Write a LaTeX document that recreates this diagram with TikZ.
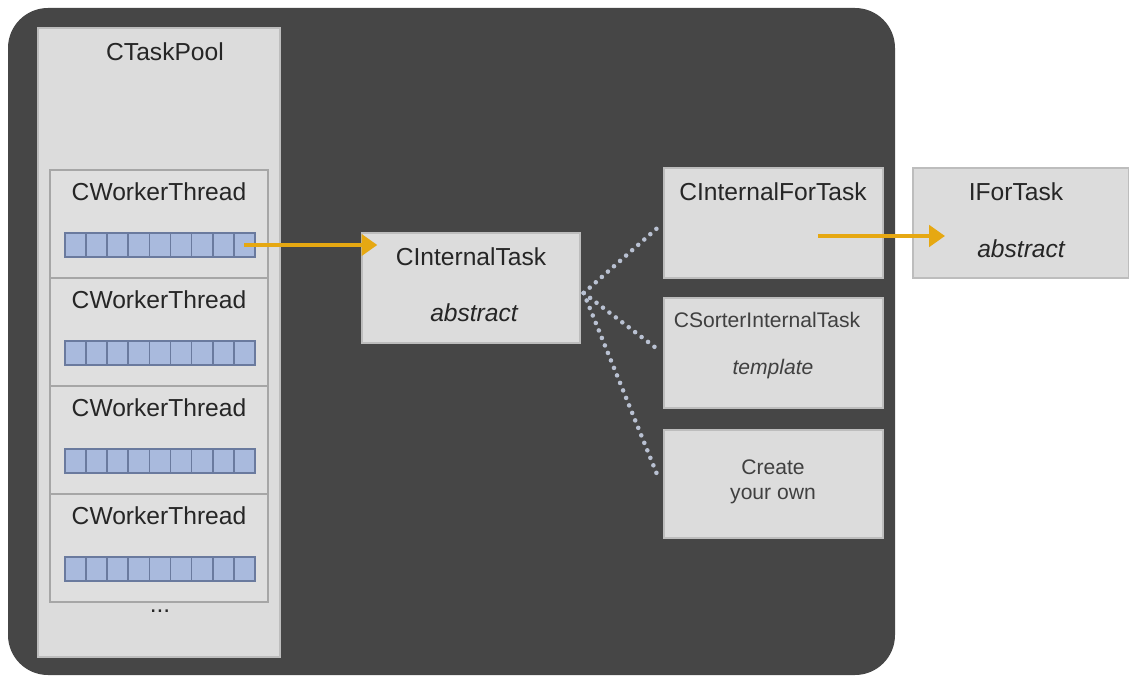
\documentclass[tikz,border=0pt]{standalone}
\usepackage{fontspec}
\setmainfont{Liberation Sans}
\usetikzlibrary{arrows.meta}
\definecolor{bgdark}{HTML}{464646}
\definecolor{boxfill}{HTML}{DCDCDC}
\definecolor{boxline}{HTML}{BDBDBD}
\definecolor{cellfill}{HTML}{A9BADD}
\definecolor{cellline}{HTML}{6A7A9E}
\definecolor{flowcol}{HTML}{E6A812}
\definecolor{dotcol}{HTML}{B9C1D2}
\tikzset{
    panel/.style={draw=boxline, fill=boxfill, line width=0.8pt, inner sep=0pt},
    worker/.style={draw=gray!70, fill=boxfill!90!white, line width=1.2pt, inner sep=0pt,
        minimum width=4.36cm, minimum height=2.16cm},
    cell/.style={draw=cellline, fill=cellfill, line width=1pt, inner sep=0pt,
        minimum width=0.422cm, minimum height=0.48cm},
    title/.style={font=\fontsize{14}{16}\selectfont, text=black!85},
    small/.style={font=\fontsize{12}{14}\selectfont, text=black!75},
    flow/.style={draw=flowcol, line width=2.5pt, -{Triangle[length=9pt,width=12pt]}},
    dots/.style={draw=dotcol, line width=2.6pt, line cap=round, dash pattern=on 0pt off 4.6pt}
}
\begin{document}
\begin{tikzpicture}[x=0.02cm, y=-0.02cm]
    %\draw[lightgray] (0, 0) grid[step=50] (1129, 678);
    \useasboundingbox (0, 0) rectangle (1129, 678);
    \fill[bgdark, rounded corners=0.8cm] (8, 8) rectangle (895, 675);

    % pool with its worker threads
    \node[panel, minimum width=4.84cm, minimum height=12.58cm] (pool) at (159, 342.5) {};
    \node[title] (pooltxt) at (165, 52) {CTaskPool};
    \foreach \i/\y in {1/224, 2/332, 3/440, 4/548} {
        \node[worker] (w\i) at (159, \y) {};
        \node[title] (w\i txt) at (159, \y - 32) {CWorkerThread};
        \foreach \c in {1, ..., 9}
            \node[cell] (q\i-\c) at (65 + 21.1*\c - 10.55, \y + 21) {};
    }
    \node[title] (more) at (160, 611) {...};

    % task classes
    \node[panel, minimum width=4.36cm, minimum height=2.2cm] (itask) at (471, 288) {};
    \node[title] (itasktxt) at (471, 257) {CInternalTask};
    \node[title, font=\fontsize{14}{16}\selectfont\itshape] (itaskkind) at (474, 313) {abstract};

    \node[panel, minimum width=4.38cm, minimum height=2.2cm] (cfor) at (773.5, 223) {};
    \node[title] (cfortxt) at (773, 192) {CInternalForTask};

    \node[panel, minimum width=4.38cm, minimum height=2.2cm] (sorter) at (773.5, 353) {};
    \node[small] (sortertxt) at (767, 320) {CSorterInternalTask};
    \node[small, font=\fontsize{12}{14}\selectfont\itshape] (sorterkind) at (773, 369) {template};

    \node[panel, minimum width=4.38cm, minimum height=2.16cm] (own) at (773.5, 484) {};
    \node[small, align=center] (owntxt) at (773, 482) {Create\\your own};

    \node[panel, minimum width=4.32cm, minimum height=2.2cm] (ifor) at (1021, 223) {};
    \node[title] (fortxt) at (1016, 192) {IForTask};
    \node[title, font=\fontsize{14}{16}\selectfont\itshape] (forkind) at (1021, 249) {abstract};

    % connectors
    \draw[flow, shorten >=-0.32cm] (q1-9.center) -- (itask.west |- q1-9);
    \coordinate (fsrc) at (818, 236);
    \coordinate (fdst) at (945, 236);
    \draw[flow] (fsrc) -- (fdst);
    \draw[dots] ([shift={(0.06cm, -0.1cm)}]itask.east) -- ([shift={(-0.12cm, -0.1cm)}]cfor.west);
    \draw[dots] ([shift={(0.06cm, -0.1cm)}]itask.east) -- ([shift={(-0.12cm, 0.08cm)}]sorter.west);
    \draw[dots] ([shift={(0.06cm, -0.1cm)}]itask.east) -- ([shift={(-0.08cm, 0.08cm)}]own.west);
\end{tikzpicture}
\end{document}
